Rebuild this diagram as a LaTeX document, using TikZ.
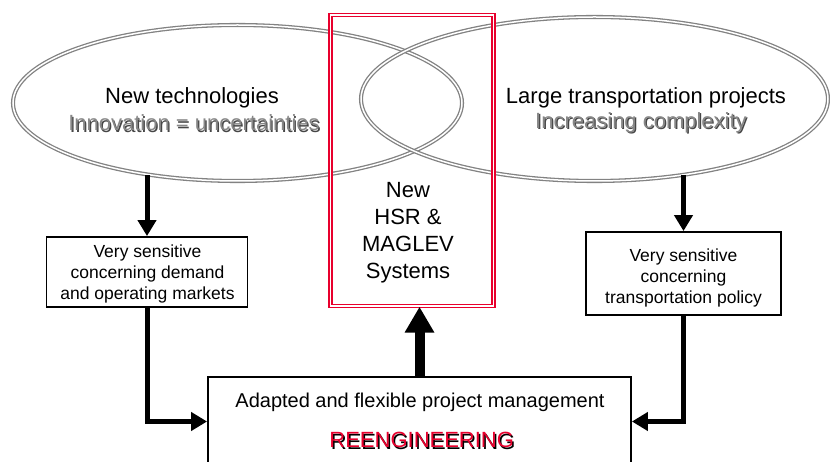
\documentclass[tikz,border=0pt]{standalone}
\usepackage{fontspec}
\setmainfont{Liberation Sans}
\usetikzlibrary{shapes.geometric,arrows.meta,calc}
\definecolor{ellgray}{RGB}{130,130,130}
\definecolor{sysred}{RGB}{232,0,45}
\definecolor{shadowgray}{RGB}{70,70,70}
\definecolor{frontgray}{RGB}{135,135,135}
\begin{document}
\begin{tikzpicture}[x=1pt,y=-1pt,
  ell/.style={ellipse, draw=ellgray, double=white, line width=1.3pt, double distance=1.5pt, inner sep=0pt},
  sysbox/.style={rectangle, draw=sysred, double=white, line width=1.4pt, double distance=1.6pt, inner sep=0pt},
  smallbox/.style={rectangle, draw=black, line width=1.8pt, fill=white, inner sep=0pt},
  bigtxt/.style={font=\fontsize{22}{26.5}\selectfont, align=center, inner sep=0pt},
  systxt/.style={font=\fontsize{22}{27}\selectfont, align=center, inner sep=0pt},
  smalltxt/.style={font=\fontsize{17.5}{21}\selectfont, align=center, inner sep=0pt},
  mgmttxt/.style={font=\fontsize{20}{24}\selectfont, align=center, inner sep=0pt},
  thinarrow/.style={line width=5pt, -{Triangle[width=18pt,length=16pt]}},
  thickarrow/.style={line width=10pt, -{Triangle[width=28pt,length=26pt]}}
]
\useasboundingbox (0,0) rectangle (830,462);
\clip (0,0) rectangle (830,462);

% ellipses
\node[ell, minimum width=449pt, minimum height=156pt] (tech) at (237.5,103) {};
\node[ell, minimum width=467pt, minimum height=164pt] (large) at (594.5,99) {};

% ellipse texts
\node[bigtxt] (techt) at (192,98) {New technologies};
\node[bigtxt, text=shadowgray] (techsh) at (195.2,124.2) {Innovation = uncertainties};
\node[bigtxt, text=frontgray] (techs) at (194,123) {Innovation = uncertainties};
\node[bigtxt] (larget) at (646,98) {Large transportation projects};
\node[bigtxt, text=shadowgray] (largesh) at (642.2,124.2) {Increasing complexity};
\node[bigtxt, text=frontgray] (larges) at (641,123) {Increasing complexity};

% red system box
\node[sysbox, minimum width=163pt, minimum height=291pt] (sys) at (412,160.5) {};
\node[systxt] (syst) at (408,233) {New\\HSR \&\\MAGLEV\\Systems};

% small boxes
\node[smallbox, minimum width=201pt, minimum height=70pt] (lbox) at (147,272) {};
\node[smalltxt] (lboxt) at (147.5,274) {Very sensitive\\concerning demand\\and operating markets};
\node[smallbox, minimum width=195pt, minimum height=83pt] (rbox) at (683.5,273.5) {};
\node[smalltxt] (rboxt) at (683.5,278) {Very sensitive\\concerning\\transportation policy};

% management box
\node[smallbox, minimum width=423pt, minimum height=89pt] (mgmt) at (419.5,421.5) {};
\node[mgmttxt] (mgmtt) at (420,402) {Adapted and flexible project management};
\node[bigtxt, text=black] (reengsh) at (423.2,441.5) {REENGINEERING};
\node[bigtxt, text=sysred] (reeng) at (421.7,440) {REENGINEERING};

% arrows
\draw[thinarrow] (tech.219 -| lbox.north) -- (lbox.north);
\draw[thinarrow] (large.320 -| rbox.north) -- (rbox.north);
\draw[thinarrow] (lbox.south) |- (mgmt.west);
\draw[thinarrow] (rbox.south) |- (mgmt.east);
\draw[thickarrow] (mgmt.north) -- (mgmt.north |- sys.south);
\end{tikzpicture}
\end{document}
